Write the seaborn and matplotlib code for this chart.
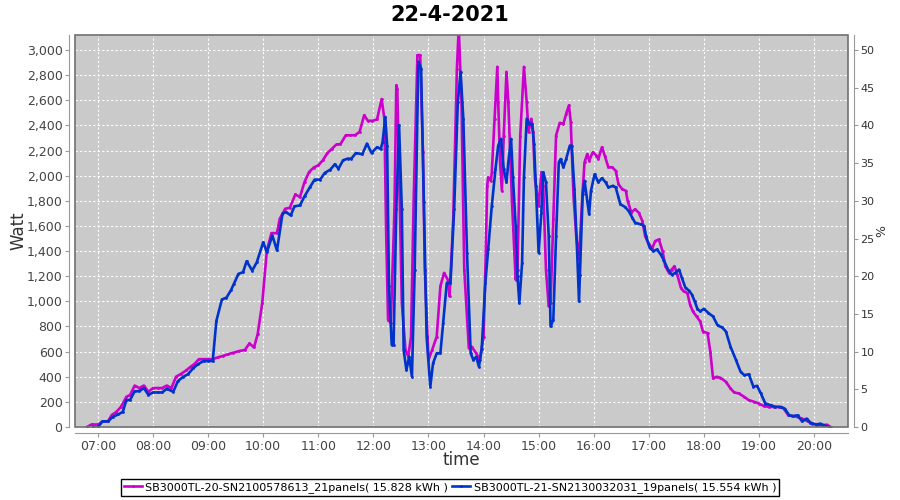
import matplotlib
matplotlib.use("Agg")
import matplotlib.pyplot as plt
import matplotlib.dates as mdates
from matplotlib.patches import Rectangle
from matplotlib.ticker import FuncFormatter, MultipleLocator
import pandas as pd
import seaborn as sns

day = "2021-04-22"
title = "22-4-2021"

name_a = "SB3000TL-20-SN2100578613_21panels( 15.828 kWh )"
name_b = "SB3000TL-21-SN2130032031_19panels( 15.554 kWh )"

# inverter 1 (magenta)
times_a = ["06:48", "06:53", "07:00", "07:05", "07:11", "07:15", "07:20", "07:25", "07:31", "07:35",
           "07:40", "07:45", "07:50", "07:55", "08:00", "08:05", "08:10", "08:15", "08:20", "08:25",
           "08:31", "08:36", "08:41", "08:45", "08:50", "08:55", "09:00", "09:05", "09:11", "09:16",
           "09:22", "09:27", "09:34", "09:40", "09:45", "09:50", "09:54", "09:59", "10:04", "10:09",
           "10:15", "10:18", "10:24", "10:29", "10:35", "10:40", "10:45", "10:50", "10:55", "11:00",
           "11:05", "11:10", "11:15", "11:20", "11:24", "11:30", "11:35", "11:40", "11:45", "11:50",
           "11:54", "11:59", "12:04", "12:09", "12:12", "12:14", "12:16", "12:19", "12:23", "12:25",
           "12:26", "12:28", "12:31", "12:35", "12:38", "12:41", "12:44", "12:48", "12:51", "12:54",
           "12:56", "13:00", "13:04", "13:09", "13:13", "13:17", "13:21", "13:23", "13:27", "13:31",
           "13:33", "13:36", "13:39", "13:44", "13:47", "13:52", "13:56", "14:00", "14:02", "14:04",
           "14:05", "14:08", "14:09", "14:12", "14:15", "14:16", "14:18", "14:20", "14:22", "14:25",
           "14:27", "14:31", "14:35", "14:37", "14:40", "14:44", "14:47", "14:49", "14:52", "14:54",
           "14:56", "15:00", "15:03", "15:05", "15:08", "15:11", "15:13", "15:16", "15:19", "15:23",
           "15:27", "15:30", "15:33", "15:35", "15:38", "15:41", "15:44", "15:45", "15:48", "15:50",
           "15:53", "15:55", "15:59", "16:03", "16:05", "16:09", "16:12", "16:16", "16:20", "16:24",
           "16:27", "16:31", "16:35", "16:37", "16:41", "16:45", "16:49", "16:53", "16:56", "17:00",
           "17:04", "17:07", "17:11", "17:15", "17:18", "17:22", "17:25", "17:28", "17:31", "17:35",
           "17:38", "17:42", "17:45", "17:48", "17:52", "17:56", "17:59", "18:04", "18:07", "18:10",
           "18:14", "18:18", "18:24", "18:29", "18:33", "18:38", "18:44", "18:49", "18:55", "19:00",
           "19:05", "19:11", "19:16", "19:22", "19:27", "19:32", "19:36", "19:42", "19:47", "19:53",
           "19:58", "20:04", "20:09", "20:14", "20:18"]
watt_a = [0, 20, 20, 45, 45, 95, 120, 160, 240, 255,
          330, 310, 330, 280, 310, 310, 310, 330, 310, 400,
          425, 450, 480, 500, 540, 540, 540, 540, 555, 565,
          580, 590, 605, 613, 665, 633, 740, 990, 1405, 1543,
          1543, 1657, 1737, 1745, 1851, 1830, 1950, 2030, 2065, 2083,
          2123, 2181, 2216, 2250, 2250, 2322, 2322, 2322, 2349, 2482,
          2437, 2437, 2448, 2610, 2453, 1520, 853, 827, 1733, 2720,
          2693, 2053, 987, 613, 560, 720, 1840, 2960, 2960, 2187,
          1253, 533, 613, 720, 1120, 1227, 1173, 1040, 1653, 2853,
          3180, 2587, 1253, 627, 640, 587, 533, 720, 1253, 1920,
          1987, 1960, 2027, 2453, 2867, 2587, 2107, 1880, 2320, 2827,
          2587, 1787, 1173, 1253, 2320, 2867, 2587, 2347, 2453, 2347,
          1973, 1760, 2027, 1920, 1253, 960, 987, 1653, 2320, 2421,
          2413, 2493, 2560, 2427, 1840, 1520, 1340, 1480, 1880, 2107,
          2173, 2120, 2187, 2160, 2133, 2227, 2160, 2067, 2067, 2040,
          1933, 1893, 1880, 1800, 1707, 1733, 1707, 1640, 1520, 1453,
          1427, 1480, 1493, 1400, 1280, 1227, 1253, 1280, 1213, 1107,
          1080, 1067, 973, 920, 880, 840, 760, 747, 600, 387,
          400, 392, 360, 307, 275, 267, 240, 213, 200, 187,
          168, 160, 160, 160, 147, 93, 88, 80, 67, 45,
          27, 19, 13, 19, 0]

# inverter 2 (blue)
times_b = ["06:55", "07:00", "07:05", "07:11", "07:16", "07:22", "07:27", "07:31", "07:35", "07:40",
           "07:45", "07:50", "07:55", "08:00", "08:05", "08:10", "08:15", "08:22", "08:27", "08:33",
           "08:38", "08:44", "08:49", "08:55", "09:00", "09:05", "09:09", "09:15", "09:20", "09:25",
           "09:28", "09:33", "09:38", "09:42", "09:48", "09:53", "10:00", "10:04", "10:10", "10:15",
           "10:21", "10:25", "10:30", "10:34", "10:40", "10:45", "10:51", "10:56", "11:02", "11:07",
           "11:13", "11:18", "11:22", "11:27", "11:32", "11:36", "11:41", "11:48", "11:53", "11:58",
           "12:04", "12:08", "12:10", "12:13", "12:15", "12:17", "12:20", "12:22", "12:25", "12:28",
           "12:31", "12:33", "12:36", "12:39", "12:42", "12:45", "12:49", "12:52", "12:55", "12:58",
           "13:02", "13:05", "13:09", "13:13", "13:16", "13:20", "13:24", "13:28", "13:32", "13:35",
           "13:38", "13:42", "13:46", "13:49", "13:52", "13:55", "13:58", "14:02", "14:05", "14:09",
           "14:13", "14:16", "14:19", "14:22", "14:25", "14:27", "14:30", "14:32", "14:35", "14:37",
           "14:39", "14:42", "14:44", "14:47", "14:50", "14:53", "14:55", "14:57", "15:00", "15:03",
           "15:05", "15:08", "15:11", "15:13", "15:16", "15:19", "15:22", "15:24", "15:27", "15:30",
           "15:34", "15:36", "15:39", "15:42", "15:44", "15:45", "15:48", "15:50", "15:53", "15:55",
           "15:57", "16:01", "16:05", "16:09", "16:13", "16:16", "16:21", "16:24", "16:27", "16:29",
           "16:34", "16:38", "16:42", "16:45", "16:51", "16:55", "16:57", "17:01", "17:05", "17:09",
           "17:13", "17:16", "17:21", "17:25", "17:29", "17:33", "17:36", "17:40", "17:44", "17:47",
           "17:50", "17:53", "17:56", "18:00", "18:05", "18:10", "18:15", "18:20", "18:24", "18:29",
           "18:35", "18:40", "18:44", "18:49", "18:54", "18:58", "19:02", "19:07", "19:13", "19:18",
           "19:24", "19:28", "19:33", "19:37", "19:42", "19:47", "19:52", "19:56", "20:02", "20:07",
           "20:11", "20:16"]
watt_b = [0, 0, 45, 45, 80, 100, 120, 215, 215, 285,
          285, 310, 255, 275, 275, 275, 305, 280, 365, 400,
          420, 470, 500, 525, 525, 525, 845, 1015, 1030, 1090,
          1139, 1219, 1232, 1320, 1245, 1311, 1471, 1391, 1524, 1405,
          1698, 1710, 1684, 1756, 1764, 1836, 1910, 1969, 1969, 2022,
          2048, 2091, 2056, 2123, 2136, 2136, 2181, 2171, 2256, 2181,
          2227, 2213, 2267, 2467, 2240, 1120, 653, 653, 1733, 2400,
          1733, 613, 453, 560, 400, 1253, 2907, 2853, 1787, 720,
          320, 507, 587, 587, 827, 1147, 1147, 1733, 2587, 2827,
          2453, 1387, 587, 533, 560, 480, 620, 1147, 1413, 1760,
          2053, 2240, 2293, 2053, 1947, 2107, 2293, 1987, 1600, 1200,
          987, 1307, 1987, 2453, 2413, 2413, 2253, 1920, 1387, 1707,
          2027, 1947, 1520, 800, 853, 1520, 2107, 2133, 2067, 2133,
          2240, 2240, 1893, 1387, 1000, 1213, 1853, 1960, 1800, 1693,
          1880, 2013, 1947, 1981, 1947, 1907, 1920, 1907, 1827, 1773,
          1752, 1720, 1667, 1627, 1613, 1600, 1520, 1427, 1400, 1413,
          1373, 1333, 1253, 1213, 1227, 1253, 1187, 1107, 1085, 1053,
          1000, 940, 920, 941, 907, 880, 808, 792, 760, 640,
          533, 440, 413, 419, 320, 328, 267, 187, 173, 160,
          160, 147, 93, 88, 93, 45, 67, 35, 19, 27,
          13, 0]

df = pd.concat([
    pd.DataFrame({"time": pd.to_datetime([day + " " + t for t in times_a]), "watt": watt_a, "inverter": name_a}),
    pd.DataFrame({"time": pd.to_datetime([day + " " + t for t in times_b]), "watt": watt_b, "inverter": name_b}),
])

plt.rcParams["font.family"] = ["DejaVu Sans"]
fig = plt.figure(figsize=(9, 5), dpi=100)
ax = fig.add_axes([75 / 900, 1 - 427 / 500, 773 / 900, 392 / 500])
ax.set_facecolor("#CACACA")

sns.lineplot(data=df, x="time", y="watt", hue="inverter",
             palette={name_a: "#CC00CC", name_b: "#0033CC"},
             linewidth=1.9, marker="o", markersize=2, markeredgewidth=0,
             ax=ax, legend=True, zorder=3)

ax.set_xlim(pd.Timestamp(day + " 06:35"), pd.Timestamp(day + " 20:37"))
ax.set_ylim(0, 3120)
ax.yaxis.set_major_locator(MultipleLocator(200))
ax.yaxis.set_major_formatter(FuncFormatter(lambda v, p: f"{int(v):,}"))
ax.xaxis.set_major_locator(mdates.HourLocator())
ax.xaxis.set_major_formatter(mdates.DateFormatter("%H:%M"))
ax.grid(True, color="white", linestyle=(0, (2, 2)), linewidth=0.8)
ax.set_axisbelow(True)

for s in ["left", "bottom"]:
    ax.spines[s].set_position(("outward", 4))
    ax.spines[s].set_color("#999999")
ax.spines["top"].set_visible(False)
ax.spines["right"].set_visible(False)
ax.add_patch(Rectangle((0, 0), 1, 1, transform=ax.transAxes, fill=False,
                       edgecolor="#707070", linewidth=1.2, zorder=5, clip_on=False))
ax.tick_params(colors="#999999", labelcolor="#444444", labelsize=9, length=3, pad=2)

ax.set_xlabel("time", fontsize=12, color="#333333")
ax.set_ylabel("Watt", fontsize=12, color="#333333")
ax.xaxis.set_label_coords(0.5, -0.062)
ax.yaxis.set_label_coords(-0.061, 0.5)

ax2 = ax.twinx()
ax2.set_ylim(0, 52)
ax2.yaxis.set_major_locator(MultipleLocator(5))
ax2.spines["right"].set_position(("outward", 4))
ax2.spines["right"].set_color("#999999")
for s in ["left", "top", "bottom"]:
    ax2.spines[s].set_visible(False)
ax2.tick_params(colors="#999999", labelcolor="#333333", labelsize=8, length=3, pad=2)
ax2.set_ylabel("%", fontsize=9, color="#333333")
ax2.yaxis.set_label_coords(1.035, 0.5)

fig.suptitle(title, fontsize=15, fontweight="bold", y=0.99)

handles, labels = ax.get_legend_handles_labels()
ax.get_legend().remove()
fig.legend(handles, labels, loc="center", bbox_to_anchor=(0.5, 1 - 487.5 / 500),
           ncol=2, fontsize=8, frameon=True, fancybox=False, edgecolor="black",
           framealpha=1, handlelength=1.6, handletextpad=0.3, columnspacing=0.4,
           borderpad=0.3, borderaxespad=0)

fig.savefig("out.png", dpi=100)
